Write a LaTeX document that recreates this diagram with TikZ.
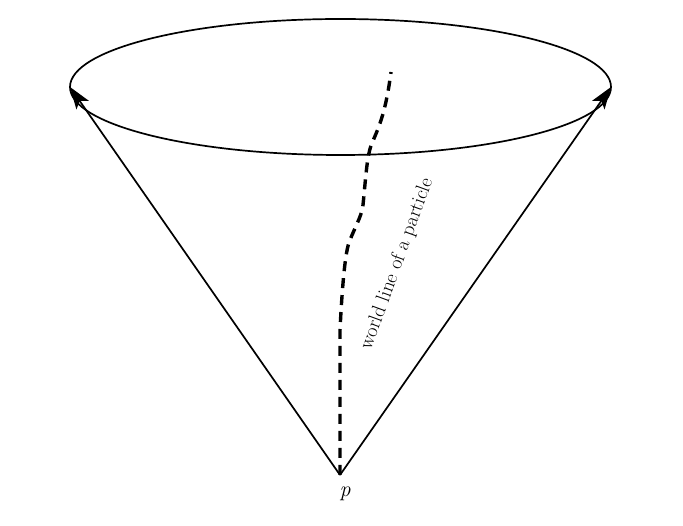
\documentclass[tikz,border=0pt]{standalone}
\usepackage{fontspec}
\usetikzlibrary{arrows.meta}
\begin{document}
\begin{tikzpicture}[x=1pt,y=-1pt,
  coneline/.style={line width=1.7pt,-{Stealth[length=22pt,width=15pt,inset=5pt]}},
  worldline/.style={line width=3.4pt,dash pattern=on 10pt off 7pt},
  rim/.style={line width=1.7pt}]
\useasboundingbox (0,0) rectangle (683,526);
\node[inner sep=0pt,minimum size=0pt] (p) at (340,475) {};
\coordinate (l) at (70,87);
\coordinate (r) at (611,87);
\draw[rim] (340.5,87) ellipse [x radius=270.5pt, y radius=68pt];
\draw[coneline] (p.center) -- (l);
\draw[coneline] (p.center) -- (r);
\coordinate (top) at (391,72);
\draw[worldline] (p.center) -- (340,330) .. controls (342,290) and (345,250) .. (350,240)
  .. controls (356,225) and (362,215) .. (363,205)
  .. controls (366,175) and (367,155) .. (372,143)
  .. controls (380,125) and (386,110) .. (top);
\node[inner sep=0pt] (plab) at (345,494) {\fontsize{22}{26}\selectfont\itshape p};
\node[rotate=70,inner sep=0pt] (wl) at (397,264) {\fontsize{20}{24}\selectfont world line of a particle};
\end{tikzpicture}
\end{document}
